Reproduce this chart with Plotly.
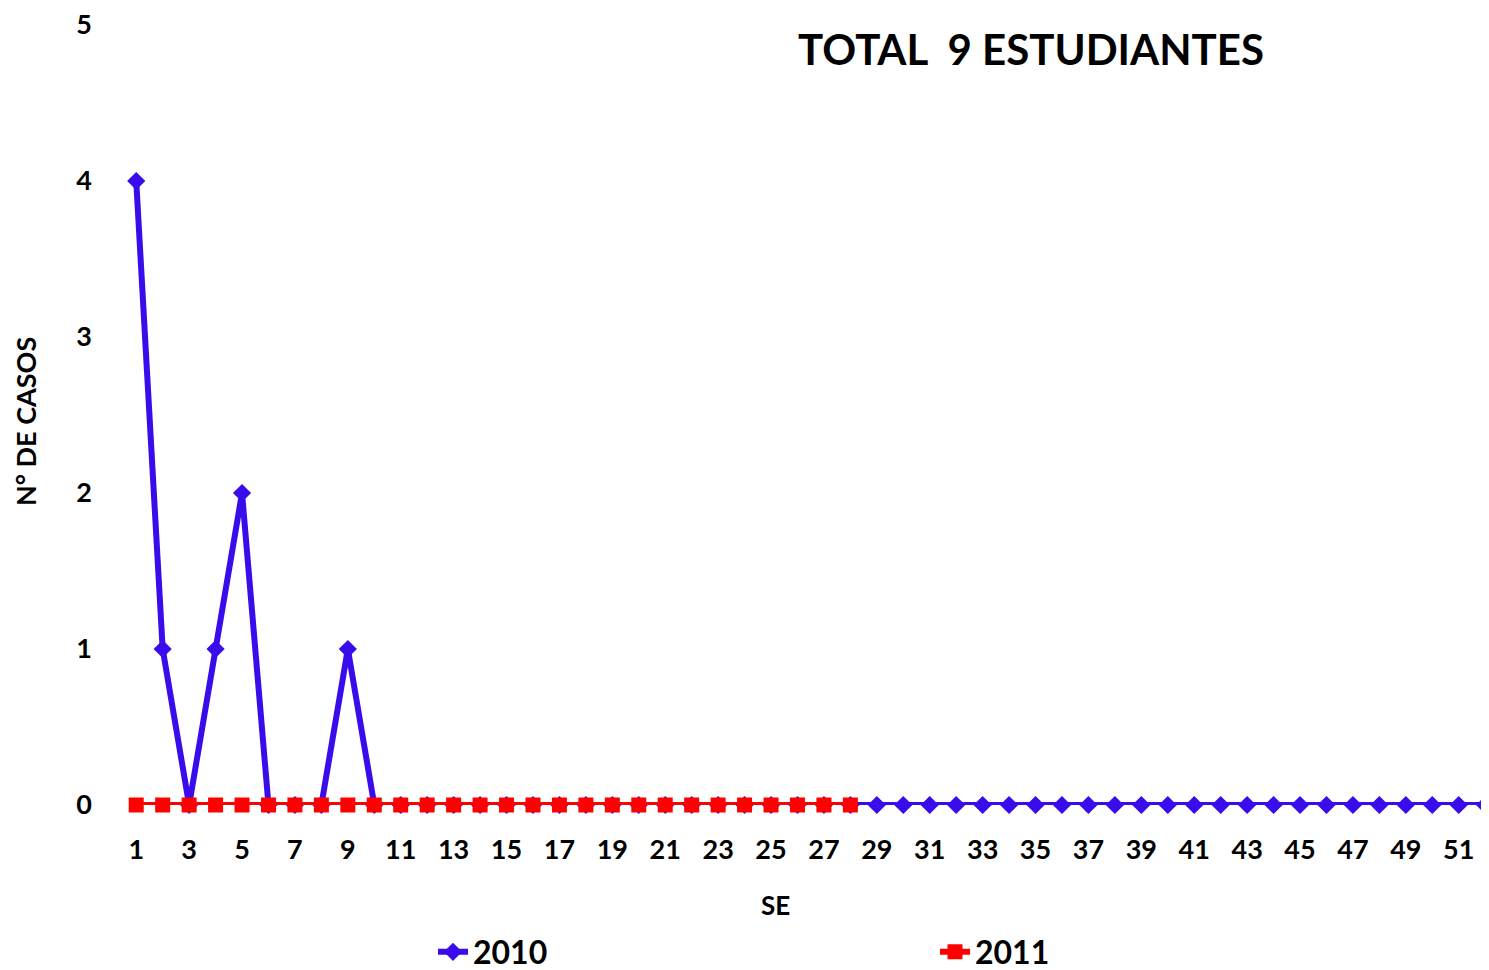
import plotly.graph_objects as go

weeks_2010 = list(range(1, 53))
cases_2010 = [4, 1, 0, 1, 2, 0, 0, 0, 1, 0] + [0] * 42
weeks_2011 = list(range(1, 29))
cases_2011 = [0] * 28
x_ticks = list(range(1, 53, 2))
y_ticks = [0, 1, 2, 3, 4, 5]

FONT = "Lato"
BLUE = "#3A0CEB"
RED = "#FF0000"

OFF = 8  # page body margin
W, H = 1489 - OFF, 970 - OFF
L, T, PW, PH = 123 - OFF, 25 - OFF, 1366, 780


def px_x(px):
    return (px - OFF - L) / PW


def px_y(py):
    return (T + PH - (py - OFF)) / PH


fig = go.Figure()
fig.add_trace(go.Scatter(
    x=weeks_2010, y=cases_2010, name="<b>2010</b>", mode="lines+markers",
    line=dict(color=BLUE, width=6),
    marker=dict(symbol="diamond", size=14, color=BLUE),
    cliponaxis=False,
))
fig.add_trace(go.Scatter(
    x=weeks_2011, y=cases_2011, name="<b>2011</b>", mode="lines+markers",
    line=dict(color=RED, width=6),
    marker=dict(symbol="square", size=15, color=RED),
    cliponaxis=False,
))

fig.update_layout(
    width=W, height=H,
    paper_bgcolor="white", plot_bgcolor="white",
    margin=dict(l=L, r=max(W - L - PW, 0), t=T, b=H - T - PH, autoexpand=False),
    font=dict(family=FONT, color="black"),
    title=dict(
        text="<b>TOTAL&nbsp;&nbsp;9 ESTUDIANTES</b>",
        x=(1031 - OFF) / W, xanchor="center", xref="container",
        y=1 - (50 - OFF) / H, yanchor="middle", yref="container",
        font=dict(size=42, family=FONT, color="black"),
    ),
    xaxis=dict(
        range=[0.5, 0.5 + PW / 26.45],
        tickmode="array", tickvals=x_ticks, ticktext=[f"<b>{v}</b>" for v in x_ticks],
        tickfont=dict(size=27, family=FONT),
        showgrid=False, zeroline=False, showline=False, ticks="",
        ticklabelstandoff=26, automargin=False, ticklabeloverflow="allow",
    ),
    yaxis=dict(
        range=[0, 5],
        tickmode="array", tickvals=y_ticks, ticktext=[f"<b>{v}</b>" for v in y_ticks],
        tickfont=dict(size=27, family=FONT),
        showgrid=False, zeroline=False, showline=False, ticks="",
        ticklabelstandoff=30, automargin=False, ticklabeloverflow="allow",
    ),
    legend=dict(
        orientation="h", x=(433 - OFF) / W, xanchor="left",
        y=(970 - 952) / H, yanchor="middle",
        xref="container", yref="container",
        entrywidth=457, entrywidthmode="pixels",
        font=dict(size=32, family=FONT),
    ),
    showlegend=True,
    annotations=[
        dict(text="<b>SE</b>", x=px_x(775), y=px_y(905), xref="paper", yref="paper",
             showarrow=False, font=dict(size=26, family=FONT), xanchor="center", yanchor="middle"),
        dict(text="<b>N° DE CASOS</b>", x=px_x(25), y=px_y(422), xref="paper", yref="paper",
             showarrow=False, textangle=-90, font=dict(size=27, family=FONT),
             xanchor="center", yanchor="middle"),
    ],
)

fig.write_html("out.html")
